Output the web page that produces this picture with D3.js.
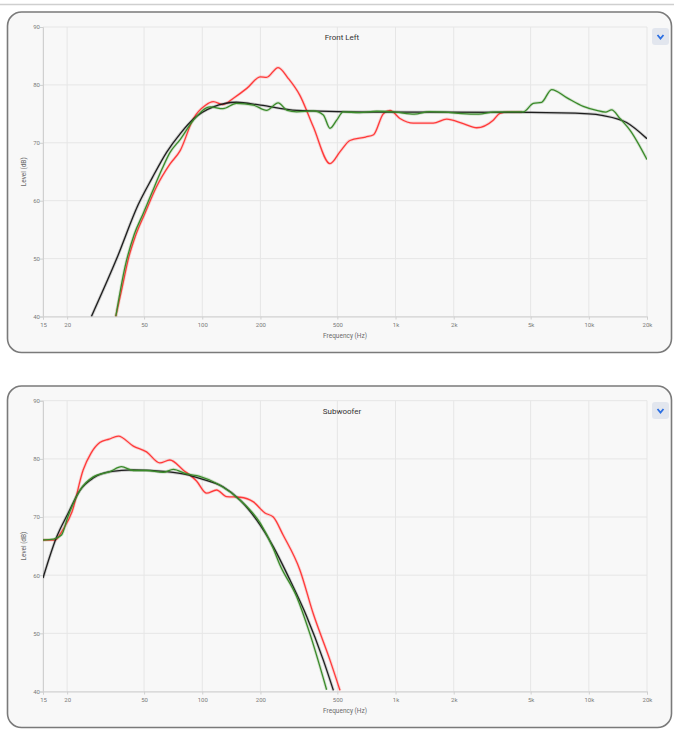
<!DOCTYPE html>
<html>
<head>
<meta charset="utf-8">
<style>
  body { margin: 0; background: #fff; }
  text { font-family: Roboto, "Noto Sans", sans-serif; }
</style>
</head>
<body>
<div id="chart"></div>
<script src="https://cdnjs.cloudflare.com/ajax/libs/d3/7.8.5/d3.min.js"></script>
<script>
var W = 674, H = 732;

// axis ticks
var xTickValues = [15, 20, 50, 100, 200, 500, 1000, 2000, 5000, 10000, 20000];
var xTickLabels = ["15", "20", "50", "100", "200", "500", "1k", "2k", "5k", "10k", "20k"];
var yTickValues = [40, 50, 60, 70, 80, 90];

// Front Left: [frequency Hz, level dB]
var flRed = [[35.7, 40], [38.5, 45], [41.5, 50], [45, 53.8], [50.5, 57.8], [58, 62.4], [68, 66.3], [77, 68.7],
  [90, 74.2], [104, 76.5], [114, 77.1], [128, 76.6], [145, 77.7], [170, 79.4], [200, 81.4], [215, 81.3],
  [247, 83.0], [279, 81.1], [320, 78.2], [375, 72.8], [458, 66.4], [520, 68.6], [581, 70.4], [700, 71.0],
  [770, 71.4], [864, 75.0], [936, 75.6], [1054, 74.2], [1235, 73.4], [1568, 73.4], [1839, 74.1],
  [2240, 73.3], [2630, 72.6], [3203, 73.9], [3470, 75.1], [3800, 75.3], [4500, 75.3]];
var flGreen = [[35.7, 40], [39.8, 48.5], [44.5, 54.2], [49.5, 57.8], [54.6, 61.2], [62, 65.5], [68, 68.3],
  [77, 70.6], [90, 73.9], [110, 76.2], [128, 75.9], [150, 76.8], [184, 76.5], [215, 75.6], [247, 76.9],
  [275, 75.6], [308, 75.35], [375, 75.5], [423, 74.8], [458, 72.5], [496, 73.9], [536, 75.35], [650, 75.2],
  [800, 75.45], [1000, 75.3], [1250, 74.95], [1500, 75.4], [1800, 75.3], [2200, 75.05], [2700, 74.95],
  [3200, 75.3], [4583, 75.35], [5161, 76.8], [5702, 77.0], [6420, 79.2], [7680, 77.8], [9360, 76.3],
  [10980, 75.6], [12200, 75.3], [13125, 75.7], [14490, 74.2], [16320, 72.2], [20000, 67.1]];
var flBlack = [[26.7, 40], [36.1, 50], [46.6, 59.3], [55, 63.9], [65.5, 68.4], [77, 71.6], [90, 74.1],
  [114, 76.2], [150, 77.0], [200, 76.5], [308, 75.6], [500, 75.4], [1000, 75.3], [5000, 75.25],
  [10000, 75.0], [11874, 74.7], [15690, 73.5], [20000, 70.7]];

// Subwoofer: [frequency Hz, level dB]
var subRed = [[15, 66.05], [17.3, 66.05], [19, 67.8], [21.2, 70.9], [24.2, 78.1], [26.5, 80.9], [29.5, 82.8],
  [33, 83.4], [36.8, 83.9], [44, 82.2], [51.5, 81.2], [60.3, 79.3], [68, 79.8], [79.6, 78.1], [93.4, 76.2],
  [105.3, 74.1], [118.6, 74.65], [133.7, 73.5], [157, 73.4], [184, 72.6], [211, 70.7], [233, 70.0],
  [262, 66.9], [320, 60.9], [375, 53.4], [458, 45.4], [516, 40.2]];
var subGreen = [[15, 66.05], [17, 66.2], [18.7, 66.9], [20.2, 70.1], [23.3, 74.6], [27.3, 76.9], [33.3, 77.8],
  [38.2, 78.65], [44, 78.0], [51.5, 78.0], [62.8, 77.7], [70.8, 78.2], [83, 77.4], [97, 77.0], [123, 75.5],
  [157, 72.9], [200, 68.9], [233, 64.6], [252, 61.8], [308, 56.3], [360, 50.0], [440, 40.3]];
var subBlack = [[15, 59.5], [17.66, 66.6], [20.2, 70.6], [23.3, 74.6], [27.3, 76.7], [33.3, 77.8], [44, 78.1],
  [65.5, 77.8], [83, 77.3], [97.1, 76.65], [128, 75.2], [157, 72.9], [191, 69.5], [233, 64.9], [284, 59.2],
  [347, 52.9], [423, 45.4], [477, 40.2]];

var svg = d3.select("#chart").append("svg").attr("width", W).attr("height", H);

svg.append("line").attr("x1", 0).attr("x2", W).attr("y1", 4.5).attr("y2", 4.5)
  .attr("stroke", "#cfcfcf").attr("stroke-width", 1.5);

function drawPanel(p) {
  var g = svg.append("g");

  g.append("rect")
    .attr("x", 7.5).attr("y", p.top).attr("width", 664).attr("height", p.height)
    .attr("rx", 14).attr("fill", "#f8f8f8").attr("stroke", "#7a7a7a").attr("stroke-width", 1.6);

  var x = d3.scaleLog().domain([15, 20000]).range([43, 647]);
  var y = d3.scaleLinear().domain([40, 90]).range([p.bottom, p.plotTop]);

  // grid
  g.append("g").selectAll("line").data(xTickValues).enter().append("line")
    .attr("x1", function (d) { return x(d); }).attr("x2", function (d) { return x(d); })
    .attr("y1", y(90)).attr("y2", y(40))
    .attr("stroke", "#e6e6e6").attr("stroke-width", 1);
  g.append("g").selectAll("line").data(yTickValues).enter().append("line")
    .attr("x1", x(15)).attr("x2", x(20000))
    .attr("y1", function (d) { return y(d); }).attr("y2", function (d) { return y(d); })
    .attr("stroke", "#e6e6e6").attr("stroke-width", 1);

  // axes
  var ay = g.append("g").attr("transform", "translate(" + x(15) + ",0)")
    .call(d3.axisLeft(y).tickValues(yTickValues).tickSize(3).tickPadding(0).tickFormat(d3.format("d")));
  var ax = g.append("g").attr("transform", "translate(0," + y(40) + ")")
    .call(d3.axisBottom(x).tickValues(xTickValues).tickSize(3).tickPadding(3)
      .tickFormat(function (d, i) { return xTickLabels[i]; }));
  [ax, ay].forEach(function (a) {
    a.select(".domain").attr("stroke", "#d0d0d0");
    a.selectAll(".tick line").attr("stroke", "#d0d0d0");
    a.selectAll(".tick text").attr("fill", "#7a7a7a").style("font-size", "6px");
  });

  g.append("text").attr("x", 345).attr("y", p.bottom + 21)
    .attr("text-anchor", "middle").attr("fill", "#6a6a6a").style("font-size", "6.5px")
    .text("Frequency (Hz)");
  g.append("text")
    .attr("transform", "translate(26," + ((y(40) + y(90)) / 2) + ") rotate(-90)")
    .attr("text-anchor", "middle").attr("fill", "#6a6a6a").style("font-size", "6.5px")
    .text("Level (dB)");

  g.append("text").attr("x", 342).attr("y", p.top + 28)
    .attr("text-anchor", "middle").attr("fill", "#333").style("font-size", "8px")
    .text(p.title);

  // dropdown button
  g.append("rect").attr("x", 652).attr("y", p.top + 16).attr("width", 17).attr("height", 17)
    .attr("rx", 3).attr("fill", "#e2e6ee");
  g.append("path")
    .attr("d", "M657.5," + (p.top + 23) + " L660.5," + (p.top + 26.5) + " L663.5," + (p.top + 23))
    .attr("fill", "none").attr("stroke", "#2b6fe3").attr("stroke-width", 1.8);

  // curves
  var clipId = "clip" + p.id;
  svg.append("clipPath").attr("id", clipId).append("rect")
    .attr("x", x(15)).attr("y", y(90)).attr("width", x(20000) - x(15)).attr("height", y(40) - y(90));

  var line = d3.line()
    .x(function (d) { return x(d[0]); })
    .y(function (d) { return y(d[1]); })
    .curve(d3.curveMonotoneX);

  var cg = g.append("g").attr("clip-path", "url(#" + clipId + ")");
  p.series.forEach(function (s) {
    cg.append("path").datum(s.data).attr("d", line)
      .attr("fill", "none").attr("stroke", s.color).attr("stroke-opacity", 0.2).attr("stroke-width", 3);
    cg.append("path").datum(s.data).attr("d", line)
      .attr("fill", "none").attr("stroke", s.color).attr("stroke-width", 1.3);
  });
}

drawPanel({
  id: 1, title: "Front Left", top: 12, height: 340.5, plotTop: 27, bottom: 316.5,
  series: [
    { data: flRed, color: "#ff3a3a" },
    { data: flBlack, color: "#1e1e1e" },
    { data: flGreen, color: "#3a8a2a" }
  ]
});

drawPanel({
  id: 2, title: "Subwoofer", top: 386, height: 341.5, plotTop: 400.7, bottom: 691.5,
  series: [
    { data: subRed, color: "#ff3a3a" },
    { data: subBlack, color: "#1e1e1e" },
    { data: subGreen, color: "#3a8a2a" }
  ]
});
</script>
</body>
</html>
